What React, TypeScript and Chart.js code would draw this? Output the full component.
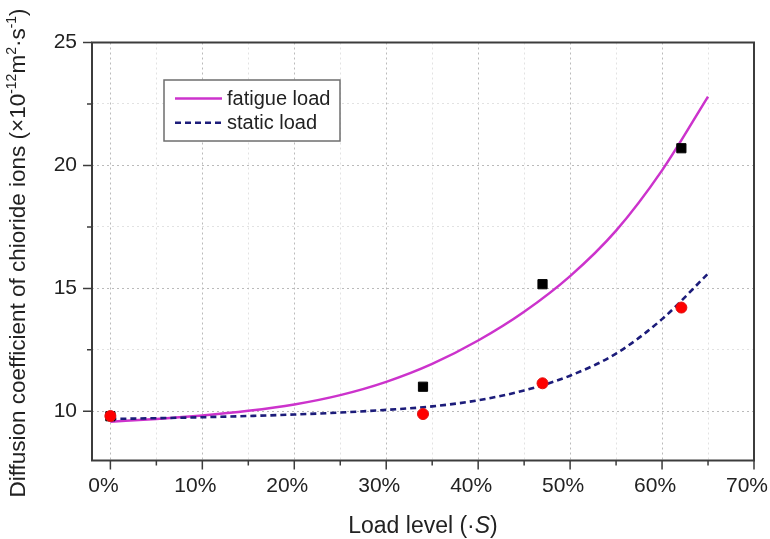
import React, { useEffect, useRef } from 'react';
import { Chart, registerables } from 'chart.js';

Chart.register(...registerables);

// ---- data ----
const curveX = [0, 5, 10, 15, 20, 25, 30, 35, 40, 45, 50, 55, 60, 65];
const fatigueCurve = [9.58, 9.69, 9.83, 10.02, 10.28, 10.66, 11.2, 11.93, 12.88, 14.05, 15.5, 17.35, 19.8, 22.8];
const staticCurve = [9.69, 9.72, 9.76, 9.81, 9.87, 9.95, 10.06, 10.2, 10.45, 10.85, 11.45, 12.35, 13.75, 15.6];

const fatigueX = [0, 34, 47, 62.1];
const fatigueY = [9.8, 11.0, 15.17, 20.7];
const staticX = [0, 34, 47, 62.1];
const staticY = [9.81, 9.89, 11.14, 14.22];

const xTicks = [0, 5, 10, 15, 20, 25, 30, 35, 40, 45, 50, 55, 60, 65, 70];
const yTicks = [10, 12.5, 15, 17.5, 20, 22.5, 25];

const legendLabels = ['fatigue load', 'static load'];
const xTitle = ['Load level (·', 'S', ')'];
const yTitleParts: [string, boolean][] = [
  ['Diffusion coefficient of chioride ions (×10', false],
  ['-12', true],
  ['m', false],
  ['2', true],
  ['·s', false],
  ['-1', true],
  [')', false],
];

const FONT = '"Liberation Sans", Arial, Helvetica, sans-serif';
const FATIGUE_COLOR = '#cc33cc';
const STATIC_COLOR = '#1c1c7a';

const pts = (xs: number[], ys: number[]) => xs.map((x, i) => ({ x, y: ys[i] }));

const decorPlugin = {
  id: 'decor',
  afterDraw(chart: any) {
    const { ctx, chartArea } = chart;
    const { left, top, right, bottom } = chartArea;
    const xs = chart.scales.x;
    const ys = chart.scales.y;
    ctx.save();
    // frame
    ctx.strokeStyle = '#3c3c3c';
    ctx.lineWidth = 2;
    ctx.strokeRect(left, top, right - left, bottom - top);
    // ticks (outward)
    ctx.lineWidth = 1.5;
    ctx.beginPath();
    xTicks.forEach((v) => {
      const px = xs.getPixelForValue(v);
      const len = v % 10 === 0 ? 9 : 5;
      ctx.moveTo(px, bottom);
      ctx.lineTo(px, bottom + len);
    });
    yTicks.forEach((v) => {
      const py = ys.getPixelForValue(v);
      const len = v % 5 === 0 ? 9 : 5;
      ctx.moveTo(left, py);
      ctx.lineTo(left - len, py);
    });
    ctx.stroke();

    // legend
    const bx = 164, by = 80, bw = 176, bh = 61;
    ctx.fillStyle = '#ffffff';
    ctx.fillRect(bx, by, bw, bh);
    ctx.strokeStyle = '#6e6e6e';
    ctx.lineWidth = 1.5;
    ctx.strokeRect(bx, by, bw, bh);
    const rows = [98.5, 122.7];
    const colors = [FATIGUE_COLOR, STATIC_COLOR];
    const dashes = [[], [6, 4]];
    rows.forEach((ry, i) => {
      ctx.beginPath();
      ctx.setLineDash(dashes[i]);
      ctx.strokeStyle = colors[i];
      ctx.lineWidth = 2.5;
      ctx.moveTo(175, ry);
      ctx.lineTo(222, ry);
      ctx.stroke();
      ctx.setLineDash([]);
      ctx.fillStyle = '#222';
      ctx.font = `20px ${FONT}`;
      ctx.textAlign = 'left';
      ctx.textBaseline = 'middle';
      ctx.fillText(legendLabels[i], 227, ry + 1);
    });

    // x title
    ctx.fillStyle = '#222';
    ctx.textBaseline = 'alphabetic';
    ctx.textAlign = 'left';
    const xf = 23;
    const normal = `${xf}px ${FONT}`;
    const italic = `italic ${xf}px ${FONT}`;
    ctx.font = normal;
    const w0 = ctx.measureText(xTitle[0]).width;
    const w2 = ctx.measureText(xTitle[2]).width;
    ctx.font = italic;
    const w1 = ctx.measureText(xTitle[1]).width;
    let cx = (left + right) / 2 - (w0 + w1 + w2) / 2;
    const by2 = 533;
    ctx.font = normal;
    ctx.fillText(xTitle[0], cx, by2);
    cx += w0;
    ctx.font = italic;
    ctx.fillText(xTitle[1], cx, by2);
    cx += w1;
    ctx.font = normal;
    ctx.fillText(xTitle[2], cx, by2);

    // y title (rotated, with superscripts)
    const yf = 22.5;
    const sf = 14;
    const widths = yTitleParts.map(([t, sup]) => {
      ctx.font = `${sup ? sf : yf}px ${FONT}`;
      return ctx.measureText(t).width;
    });
    const total = widths.reduce((a, b) => a + b, 0);
    ctx.translate(25, 253);
    ctx.rotate(-Math.PI / 2);
    let tx = -total / 2;
    yTitleParts.forEach(([t, sup], i) => {
      ctx.font = `${sup ? sf : yf}px ${FONT}`;
      ctx.fillText(t, tx, sup ? -9 : 0);
      tx += widths[i];
    });
    ctx.restore();
  },
};

export default function App() {
  const ref = useRef<HTMLCanvasElement>(null);
  useEffect(() => {
    const chart = new Chart(ref.current as HTMLCanvasElement, {
      type: 'scatter',
      data: {
        datasets: [
          {
            label: 'static points',
            data: pts(staticX, staticY),
            pointStyle: 'circle',
            pointRadius: 5.5,
            pointBackgroundColor: '#ff0000',
            pointBorderColor: '#e01010',
            pointBorderWidth: 1,
            showLine: false,
          },
          {
            label: 'fatigue points',
            data: pts(fatigueX, fatigueY),
            pointStyle: 'rect',
            pointRadius: 6.5,
            pointBackgroundColor: '#000000',
            pointBorderColor: '#000000',
            pointBorderWidth: 1,
            showLine: false,
          },
          {
            label: legendLabels[1],
            data: pts(curveX, staticCurve),
            showLine: true,
            pointRadius: 0,
            borderColor: STATIC_COLOR,
            borderWidth: 2.6,
            borderDash: [6, 4],
            cubicInterpolationMode: 'monotone',
          },
          {
            label: legendLabels[0],
            data: pts(curveX, fatigueCurve),
            showLine: true,
            pointRadius: 0,
            borderColor: FATIGUE_COLOR,
            borderWidth: 2.5,
            cubicInterpolationMode: 'monotone',
          },
        ],
      } as any,
      options: {
        responsive: false,
        animation: false,
        layout: { padding: { left: 0, right: 16, top: 42.5, bottom: 0 } },
        plugins: { legend: { display: false }, tooltip: { enabled: false } },
        scales: {
          x: {
            type: 'linear',
            min: -2,
            max: 70,
            afterBuildTicks: (s: any) => {
              s.ticks = xTicks.map((v) => ({ value: v }));
            },
            afterFit: (s: any) => {
              s.height = 78.5;
              s.paddingLeft = 0;
              s.paddingRight = 0;
            },
            ticks: {
              autoSkip: false,
              maxRotation: 0,
              padding: 13,
              labelOffset: -7,
              color: '#222',
              font: { family: FONT, size: 21 },
              callback: (v: any) => (Number(v) % 10 === 0 ? `${v}%` : ''),
            },
            grid: {
              drawTicks: false,
              lineWidth: 1,
              color: (c: any) => (c.tick && c.tick.value % 10 === 0 ? '#bababa' : '#e2e2e2'),
            },
            border: { display: false, dash: [2, 3] },
          },
          y: {
            type: 'linear',
            min: 8,
            max: 25,
            afterBuildTicks: (s: any) => {
              s.ticks = yTicks.map((v) => ({ value: v }));
            },
            afterFit: (s: any) => {
              s.width = 92;
              s.paddingTop = 0;
              s.paddingBottom = 0;
            },
            ticks: {
              autoSkip: false,
              padding: 15,
              color: '#222',
              font: { family: FONT, size: 21 },
              callback: (v: any) => (Number(v) % 5 === 0 ? `${v}` : ''),
            },
            grid: {
              drawTicks: false,
              lineWidth: 1,
              color: (c: any) => (c.tick && c.tick.value % 5 === 0 ? '#bababa' : '#e2e2e2'),
            },
            border: { display: false, dash: [2, 3] },
          },
        },
      } as any,
      plugins: [decorPlugin],
    });
    return () => chart.destroy();
  }, []);
  return (
    <div style={{ position: 'fixed', left: 0, top: 0, width: 770, height: 539, background: '#fff' }}>
      <canvas ref={ref} width={770} height={539} style={{ display: 'block' }} />
    </div>
  );
}
